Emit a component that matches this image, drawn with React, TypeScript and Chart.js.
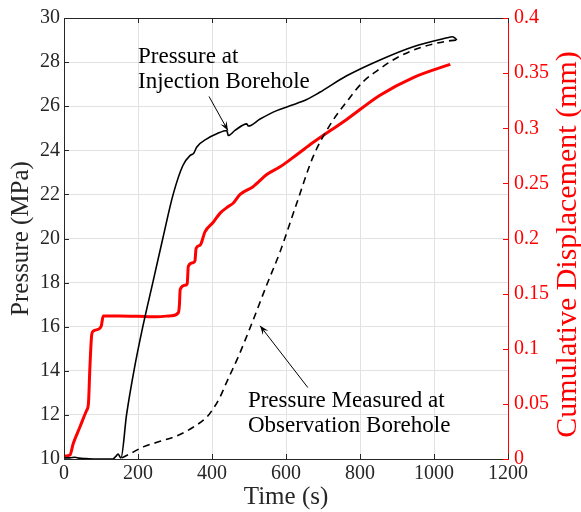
import React, { useEffect, useRef } from "react";
import { Chart, registerables } from "chart.js";

Chart.register(...registerables);

// Pressure at injection borehole (MPa)
const injTime = [0, 15, 30, 40, 60, 90, 132, 140, 146, 154, 169, 189, 213, 240, 267, 295, 321, 341, 350, 359, 386, 413, 440, 444, 462, 494, 498, 530, 575, 611, 656, 690, 764, 854, 944, 1035, 1049, 1056, 1062];
const injPressure = [10.05, 10.05, 10.08, 10.04, 10.02, 10.0, 10.0, 10.12, 10.22, 10.05, 12, 14, 16, 18, 20, 22, 23.3, 23.77, 23.85, 24.15, 24.52, 24.75, 24.9, 24.67, 24.9, 25.2, 25.1, 25.42, 25.8, 26.02, 26.3, 26.62, 27.38, 28.1, 28.7, 29.1, 29.15, 29.1, 29.0];

// Pressure measured at observation borehole (MPa)
const obsTime = [156, 180, 214, 260, 305, 350, 386, 400, 420, 440, 470, 503, 548, 584, 629, 673, 719, 764, 808, 854, 900, 962, 1035, 1062];
const obsPressure = [10.05, 10.25, 10.55, 10.8, 11.05, 11.45, 11.9, 12.2, 12.75, 13.5, 14.6, 15.95, 17.9, 19.4, 21.6, 23.7, 25.15, 26.2, 27.1, 27.7, 28.2, 28.65, 28.95, 29.0];

// Cumulative displacement (mm)
const dispTime = [0, 3, 16, 25, 43, 61, 66, 70, 75, 79, 97, 101, 106, 150, 200, 250, 290, 309, 312, 314, 327, 333, 336, 349, 354, 357, 368, 381, 404, 422, 444, 457, 476, 511, 548, 584, 629, 673, 764, 854, 944, 1035, 1044];
const dispValue = [0.002, 0.0027, 0.0036, 0.014, 0.029, 0.044, 0.05, 0.083, 0.113, 0.116, 0.1186, 0.121, 0.1297, 0.1298, 0.1295, 0.129, 0.13, 0.1327, 0.14, 0.1538, 0.1577, 0.159, 0.1748, 0.178, 0.18, 0.191, 0.194, 0.206, 0.215, 0.223, 0.229, 0.232, 0.24, 0.247, 0.258, 0.265, 0.276, 0.287, 0.308, 0.33, 0.346, 0.357, 0.358];

// Axis ranges / ticks
const timeRange = [0, 1200, 200];
const pressureRange = [10, 30, 2];
const dispRange = [0, 0.4, 0.05];

// Annotations (data coordinates)
const injLabel = { lines: ["Pressure at", "Injection Borehole"], t: 200, p: [27.97, 26.82], from: [392, 26.44], to: [443, 24.9] };
const obsLabel = { lines: ["Pressure Measured at", "Observation Borehole"], t: 497, p: [12.34, 11.22], from: [659, 13.24], to: [530, 16.04] };

const SERIF = '"Liberation Serif", "DejaVu Serif", serif';
const AXIS = "#262626";
const RED = "#ff0000";

const zip = (xs: number[], ys: number[]) => xs.map((x, i) => ({ x, y: ys[i] }));

const overlay = {
  id: "overlay",
  afterDatasetsDraw(chart: any) {
    const { ctx, chartArea: a, scales } = chart;
    const sx = scales.x, sy = scales.y, sy1 = scales.y1;
    ctx.save();
    const line = (x1: number, y1: number, x2: number, y2: number) => {
      ctx.beginPath();
      ctx.moveTo(x1, y1);
      ctx.lineTo(x2, y2);
      ctx.stroke();
    };
    ctx.lineWidth = 1;
    ctx.strokeStyle = AXIS;
    const top = Math.round(a.top) + 0.5;
    line(a.left, top, a.right, top);
    const tl = 5;
    sx.ticks.forEach((t: any) => {
      const px = Math.round(sx.getPixelForValue(t.value)) + 0.5;
      line(px, a.bottom, px, a.bottom - tl);
      line(px, a.top, px, a.top + tl);
    });
    sy.ticks.forEach((t: any) => {
      const py = Math.round(sy.getPixelForValue(t.value)) + 0.5;
      line(a.left, py, a.left + tl, py);
    });
    ctx.strokeStyle = RED;
    sy1.ticks.forEach((t: any) => {
      const py = Math.round(sy1.getPixelForValue(t.value)) + 0.5;
      line(a.right, py, a.right - tl, py);
    });

    // annotations
    ctx.fillStyle = "#000";
    ctx.strokeStyle = "#000";
    ctx.font = `23px ${SERIF}`;
    ctx.textAlign = "left";
    ctx.textBaseline = "alphabetic";
    [injLabel, obsLabel].forEach((lab) => {
      lab.lines.forEach((s, i) => {
        ctx.fillText(s, sx.getPixelForValue(lab.t), sy.getPixelForValue(lab.p[i]));
      });
      const x1 = sx.getPixelForValue(lab.from[0]);
      const y1 = sy.getPixelForValue(lab.from[1]);
      const x2 = sx.getPixelForValue(lab.to[0]);
      const y2 = sy.getPixelForValue(lab.to[1]);
      ctx.lineWidth = 1;
      line(x1, y1, x2, y2);
      const ang = Math.atan2(y2 - y1, x2 - x1);
      const L = 9, W = 3.5;
      const bx = x2 - L * Math.cos(ang), by = y2 - L * Math.sin(ang);
      const nx = -Math.sin(ang), ny = Math.cos(ang);
      ctx.beginPath();
      ctx.moveTo(x2, y2);
      ctx.lineTo(bx + nx * W, by + ny * W);
      ctx.lineTo(x2 - 0.6 * L * Math.cos(ang), y2 - 0.6 * L * Math.sin(ang));
      ctx.lineTo(bx - nx * W, by - ny * W);
      ctx.closePath();
      ctx.fill();
    });

    // right axis title (reads bottom to top)
    ctx.save();
    ctx.fillStyle = RED;
    ctx.font = `30px ${SERIF}`;
    ctx.textAlign = "center";
    ctx.textBaseline = "middle";
    ctx.translate(sy1.right - 13, (a.top + a.bottom) / 2 + 6);
    ctx.rotate(-Math.PI / 2);
    ctx.fillText("Cumulative Displacement (mm)", 0, 0);
    ctx.restore();
    ctx.restore();
  },
};

export default function App() {
  const ref = useRef<HTMLCanvasElement>(null);
  useEffect(() => {
    if (!ref.current) return;
    const chart = new Chart(ref.current, {
      type: "line",
      data: {
        datasets: [
          {
            label: "Injection",
            data: zip(injTime, injPressure),
            borderColor: "#000",
            borderWidth: 1.6,
            pointRadius: 0,
            cubicInterpolationMode: "monotone",
            yAxisID: "y",
          },
          {
            label: "Observation",
            data: zip(obsTime, obsPressure),
            borderColor: "#000",
            borderWidth: 1.6,
            borderDash: [7, 5],
            pointRadius: 0,
            cubicInterpolationMode: "monotone",
            yAxisID: "y",
          },
          {
            label: "Displacement",
            data: zip(dispTime, dispValue),
            borderColor: RED,
            borderWidth: 3,
            pointRadius: 0,
            cubicInterpolationMode: "monotone",
            yAxisID: "y1",
          },
        ],
      },
      options: {
        responsive: false,
        animation: false,
        events: [],
        layout: { padding: { top: 15, left: 0, right: 0, bottom: 0 } },
        plugins: { legend: { display: false }, tooltip: { enabled: false } },
        scales: {
          x: {
            type: "linear",
            min: timeRange[0],
            max: timeRange[1],
            afterFit: (s: any) => { s.height = 53; },
            ticks: {
              stepSize: timeRange[2],
              color: AXIS,
              font: { family: SERIF, size: 20 },
              padding: 3,
              maxRotation: 0,
              callback: (v: any) => String(v),
            },
            grid: { color: "#e2e2e2", drawTicks: false },
            border: { color: AXIS, width: 1 },
            title: { display: true, text: "Time (s)", color: AXIS, font: { family: SERIF, size: 25 }, padding: { top: 0, bottom: 0 } },
          },
          y: {
            type: "linear",
            position: "left",
            min: pressureRange[0],
            max: pressureRange[1],
            afterFit: (s: any) => { s.width = 64; },
            ticks: { stepSize: pressureRange[2], color: AXIS, font: { family: SERIF, size: 20 }, padding: 4 },
            grid: { color: "#e2e2e2", drawTicks: false },
            border: { color: AXIS, width: 1 },
            title: { display: true, text: "Pressure (MPa)", color: AXIS, font: { family: SERIF, size: 25 }, padding: { top: 6, bottom: 0 } },
          },
          y1: {
            type: "linear",
            position: "right",
            min: dispRange[0],
            max: dispRange[1],
            afterFit: (s: any) => { s.width = 73; },
            ticks: {
              stepSize: dispRange[2],
              color: RED,
              font: { family: SERIF, size: 20 },
              padding: 6,
              callback: (v: any) => String(Number(Number(v).toFixed(2))),
            },
            grid: { display: false, drawTicks: false },
            border: { color: RED, width: 1 },
          },
        },
      },
      plugins: [overlay],
    });
    return () => chart.destroy();
  }, []);
  return (
    <div style={{ position: "absolute", left: 0, top: 0, width: 581, height: 512, background: "#fff" }}>
      <canvas ref={ref} width={581} height={512} style={{ display: "block" }} />
    </div>
  );
}
